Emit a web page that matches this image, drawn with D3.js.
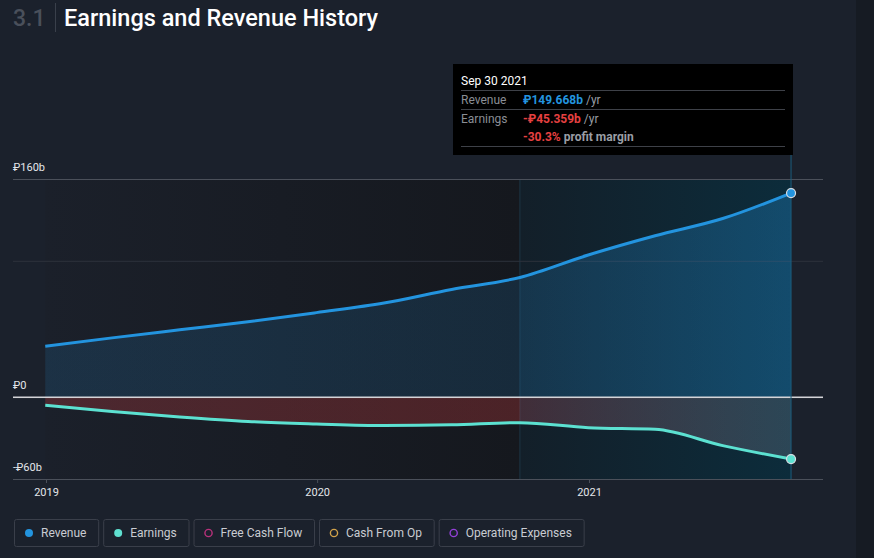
<!DOCTYPE html>
<html>
<head>
<meta charset="utf-8">
<script src="https://cdn.jsdelivr.net/npm/d3@7"></script>
<style>
  html, body { margin: 0; padding: 0; background: #1b212c; overflow: hidden; }
  svg { display: block; font-family: Roboto, "Noto Sans", sans-serif; }
</style>
</head>
<body>
<svg id="svg"></svg>
<script>
// quarterly trailing-twelve-month figures, in billions of roubles
const dates = ["2018-12-31", "2019-03-31", "2019-06-30", "2019-09-30", "2019-12-31", "2020-03-31",
    "2020-06-30", "2020-09-30", "2020-12-31", "2021-03-31", "2021-06-30", "2021-09-30"];
const revenue = [37.4, 43.5, 49.4, 55.3, 62.0, 69.0, 79.0, 87.8, 104.3, 118.4, 131.0, 149.668];
const earnings = [-5.9, -10.5, -14.5, -17.8, -19.6, -20.8, -20.3, -18.7, -22.4, -23.6, -35.5, -45.359];

const yLabels = [160, 0, -60];
const yGrid = [160, 100, 0, -60];
const xTicks = [2019, 2020, 2021];

const legendNames = ["Revenue", "Earnings", "Free Cash Flow", "Cash From Op", "Operating Expenses"];
const legendColors = ["#2394df", "#5fe0d0", "#b8317b", "#d1a24a", "#9340d8"];
const legendFilled = [true, true, false, false, false];

const width = 874;
const height = 558;
const revColor = "#2394df";
const earnColor = "#5ce1d1";

let svg = d3.select("#svg").attr("width", width).attr("height", height);
let defs = svg.append("defs");

const parse = d3.timeParse("%Y-%m-%d");
let data = dates.map((d, i) => ({ date: parse(d), rev: revenue[i], earn: earnings[i] }));

let xScale = d3.scaleTime()
    .domain([new Date(2019, 0, 1), new Date(2021, 0, 1)])
    .range([46, 589]);
let yScale = d3.scaleLinear()
    .domain([-60, 160])
    .range([479, 179]);

const left = 13, right = 823;
const firstX = xScale(data[0].date);
const lastX = xScale(data[data.length - 1].date);
const hlX = xScale(parse("2020-09-30"));

// background strip on the right
svg.append("rect").attr("x", 856).attr("y", 0).attr("width", 18).attr("height", height).attr("fill", "#161b23");

// title
svg.append("text").attr("x", 13).attr("y", 26).attr("fill", "#4a505b")
    .style("font-size", "23px").style("font-weight", 500).text("3.1");
svg.append("line").attr("x1", 55.5).attr("x2", 55.5).attr("y1", 3).attr("y2", 32).attr("stroke", "#3a404b");
svg.append("text").attr("x", 64).attr("y", 26).attr("fill", "#ffffff")
    .style("font-size", "23.5px").style("font-weight", 500).text("Earnings and Revenue History");

// plot backdrop, darkening toward the highlighted last year
let bgGrad = defs.append("linearGradient").attr("id", "bgGrad")
    .attr("gradientUnits", "userSpaceOnUse").attr("x1", firstX).attr("x2", hlX).attr("y1", 0).attr("y2", 0);
bgGrad.append("stop").attr("offset", 0).attr("stop-color", "#1b202a");
bgGrad.append("stop").attr("offset", 1).attr("stop-color", "#15181e");
svg.append("rect").attr("x", firstX).attr("y", yScale(160)).attr("width", hlX - firstX)
    .attr("height", yScale(-60) - yScale(160)).attr("fill", "url(#bgGrad)");

let hlGrad = defs.append("linearGradient").attr("id", "hlGrad")
    .attr("gradientUnits", "userSpaceOnUse").attr("x1", hlX).attr("x2", lastX).attr("y1", 0).attr("y2", 0);
hlGrad.append("stop").attr("offset", 0).attr("stop-color", "#131f29");
hlGrad.append("stop").attr("offset", 1).attr("stop-color", "#0c2c3b");
svg.append("rect").attr("x", hlX).attr("y", yScale(160)).attr("width", lastX - hlX)
    .attr("height", yScale(-60) - yScale(160)).attr("fill", "url(#hlGrad)");
svg.append("line").attr("x1", hlX).attr("x2", hlX).attr("y1", yScale(160)).attr("y2", yScale(-60))
    .attr("stroke", "#1c3544").attr("stroke-width", 1);

// grid
svg.selectAll(".grid").data(yGrid).enter().append("line")
    .attr("class", "grid")
    .attr("x1", left).attr("x2", right)
    .attr("y1", d => yScale(d) + 0.5).attr("y2", d => yScale(d) + 0.5)
    .attr("stroke", d => d == 100 ? "#2d323c" : "#4b505a")
    .attr("stroke-width", 1);

// area fills
let revGrad = defs.append("linearGradient").attr("id", "revGrad")
    .attr("gradientUnits", "userSpaceOnUse").attr("x1", firstX).attr("x2", lastX).attr("y1", 0).attr("y2", 0);
const hlOff = (hlX - firstX) / (lastX - firstX);
revGrad.append("stop").attr("offset", 0).attr("stop-color", "#2394df").attr("stop-opacity", 0.15);
revGrad.append("stop").attr("offset", hlOff).attr("stop-color", "#2394df").attr("stop-opacity", 0.15);
revGrad.append("stop").attr("offset", hlOff).attr("stop-color", "#2394df").attr("stop-opacity", 0.19);
revGrad.append("stop").attr("offset", 1).attr("stop-color", "#2394df").attr("stop-opacity", 0.3);

let earnGrad = defs.append("linearGradient").attr("id", "earnGrad")
    .attr("gradientUnits", "userSpaceOnUse").attr("x1", firstX).attr("x2", lastX).attr("y1", 0).attr("y2", 0);
earnGrad.append("stop").attr("offset", 0).attr("stop-color", "#e64141").attr("stop-opacity", 0.24);
earnGrad.append("stop").attr("offset", hlOff).attr("stop-color", "#e64141").attr("stop-opacity", 0.26);
earnGrad.append("stop").attr("offset", hlOff).attr("stop-color", "#d05a6a").attr("stop-opacity", 0.24);
earnGrad.append("stop").attr("offset", 1).attr("stop-color", "#c8c8dc").attr("stop-opacity", 0.17);

let revArea = d3.area().curve(d3.curveMonotoneX)
    .x(d => xScale(d.date)).y0(yScale(0)).y1(d => yScale(d.rev));
let earnArea = d3.area().curve(d3.curveMonotoneX)
    .x(d => xScale(d.date)).y0(yScale(0)).y1(d => yScale(d.earn));

svg.append("path").datum(data).attr("d", revArea).attr("fill", "url(#revGrad)");
svg.append("path").datum(data).attr("d", earnArea).attr("fill", "url(#earnGrad)");

// zero line
svg.append("line").attr("x1", left).attr("x2", right)
    .attr("y1", yScale(0)).attr("y2", yScale(0))
    .attr("stroke", "#d4d4d8").attr("stroke-width", 1.5);

// cursor line
svg.append("line").attr("x1", lastX).attr("x2", lastX).attr("y1", 155).attr("y2", yScale(-60))
    .attr("stroke", "#1b5c7c").attr("stroke-width", 1);

// lines
let revLine = d3.line().curve(d3.curveMonotoneX).x(d => xScale(d.date)).y(d => yScale(d.rev));
let earnLine = d3.line().curve(d3.curveMonotoneX).x(d => xScale(d.date)).y(d => yScale(d.earn));
svg.append("path").datum(data).attr("d", revLine).attr("fill", "none")
    .attr("stroke", revColor).attr("stroke-width", 3);
svg.append("path").datum(data).attr("d", earnLine).attr("fill", "none")
    .attr("stroke", earnColor).attr("stroke-width", 3);

let last = data[data.length - 1];
svg.append("circle").attr("cx", xScale(last.date)).attr("cy", yScale(last.rev)).attr("r", 4.5)
    .attr("fill", revColor).attr("stroke", "#d8dde3").attr("stroke-width", 1.2);
svg.append("circle").attr("cx", xScale(last.date)).attr("cy", yScale(last.earn)).attr("r", 4.5)
    .attr("fill", earnColor).attr("stroke", "#d8dde3").attr("stroke-width", 1.2);

// y labels
svg.selectAll(".ylab").data(yLabels).enter().append("text")
    .attr("class", "ylab")
    .attr("x", left).attr("y", d => yScale(d) - 8)
    .attr("fill", "#e4e6ea").style("font-size", "11px")
    .text(d => (d < 0 ? "-" : "") + "\u20BD" + Math.abs(d) + (d != 0 ? "b" : ""));

// x axis
let xAxis = svg.append("g")
    .attr("transform", `translate(0,${yScale(-60)})`)
    .call(d3.axisBottom(xScale)
        .tickValues(xTicks.map(y => new Date(y, 0, 1)))
        .tickFormat(d3.timeFormat("%Y"))
        .tickSize(4)
        .tickSizeOuter(0));
xAxis.select(".domain").remove();
xAxis.selectAll(".tick line").attr("stroke", "#4b505a");
xAxis.selectAll(".tick text").attr("fill", "#e4e6ea").attr("dy", "0.95em")
    .style("font-size", "11px").style("font-family", "Roboto, sans-serif");

// tooltip
let tip = svg.append("g").attr("transform", "translate(453,64)");
tip.append("rect").attr("width", 340).attr("height", 91).attr("fill", "#000");
tip.append("text").attr("x", 8).attr("y", 21).attr("fill", "#fff").style("font-size", "12px").text("Sep 30 2021");
[26.5, 45.5, 82.5].forEach(y => {
    tip.append("line").attr("x1", 8).attr("x2", 332).attr("y1", y).attr("y2", y).attr("stroke", "#3e4148");
});
tip.append("text").attr("x", 8).attr("y", 40).attr("fill", "#8a8e95").style("font-size", "12px").text("Revenue");
let t1 = tip.append("text").attr("x", 70).attr("y", 40).style("font-size", "12px");
t1.append("tspan").attr("fill", "#2394df").style("font-weight", 700).text("\u20BD149.668b");
t1.append("tspan").attr("fill", "#9a9ea5").text(" /yr");
tip.append("text").attr("x", 8).attr("y", 59).attr("fill", "#8a8e95").style("font-size", "12px").text("Earnings");
let t2 = tip.append("text").attr("x", 70).attr("y", 59).style("font-size", "12px");
t2.append("tspan").attr("fill", "#e64141").style("font-weight", 700).text("-\u20BD45.359b");
t2.append("tspan").attr("fill", "#9a9ea5").text(" /yr");
let t3 = tip.append("text").attr("x", 70).attr("y", 77).style("font-size", "12px");
t3.append("tspan").attr("fill", "#e64141").style("font-weight", 700).text("-30.3%");
t3.append("tspan").attr("fill", "#9a9ea5").style("font-weight", 700).text(" profit margin");

// legend
let lx = 14;
legendNames.forEach((name, i) => {
    let g = svg.append("g").attr("transform", `translate(${lx},519)`);
    let txt = g.append("text").attr("x", 27).attr("y", 18).attr("fill", "#c9ccd2")
        .style("font-size", "12px").text(name);
    let w = txt.node().getComputedTextLength() + 27 + 11.8;
    g.insert("rect", "text").attr("x", 0.5).attr("y", 0.5).attr("width", w).attr("height", 27)
        .attr("rx", 2).attr("fill", "none").attr("stroke", "#3a3f4a");
    g.append("circle").attr("cx", 15).attr("cy", 14).attr("r", legendFilled[i] ? 4 : 3.6)
        .attr("fill", legendFilled[i] ? legendColors[i] : "none")
        .attr("stroke", legendColors[i]).attr("stroke-width", legendFilled[i] ? 0 : 1.4);
    lx += w + 5;
});
</script>
</body>
</html>
